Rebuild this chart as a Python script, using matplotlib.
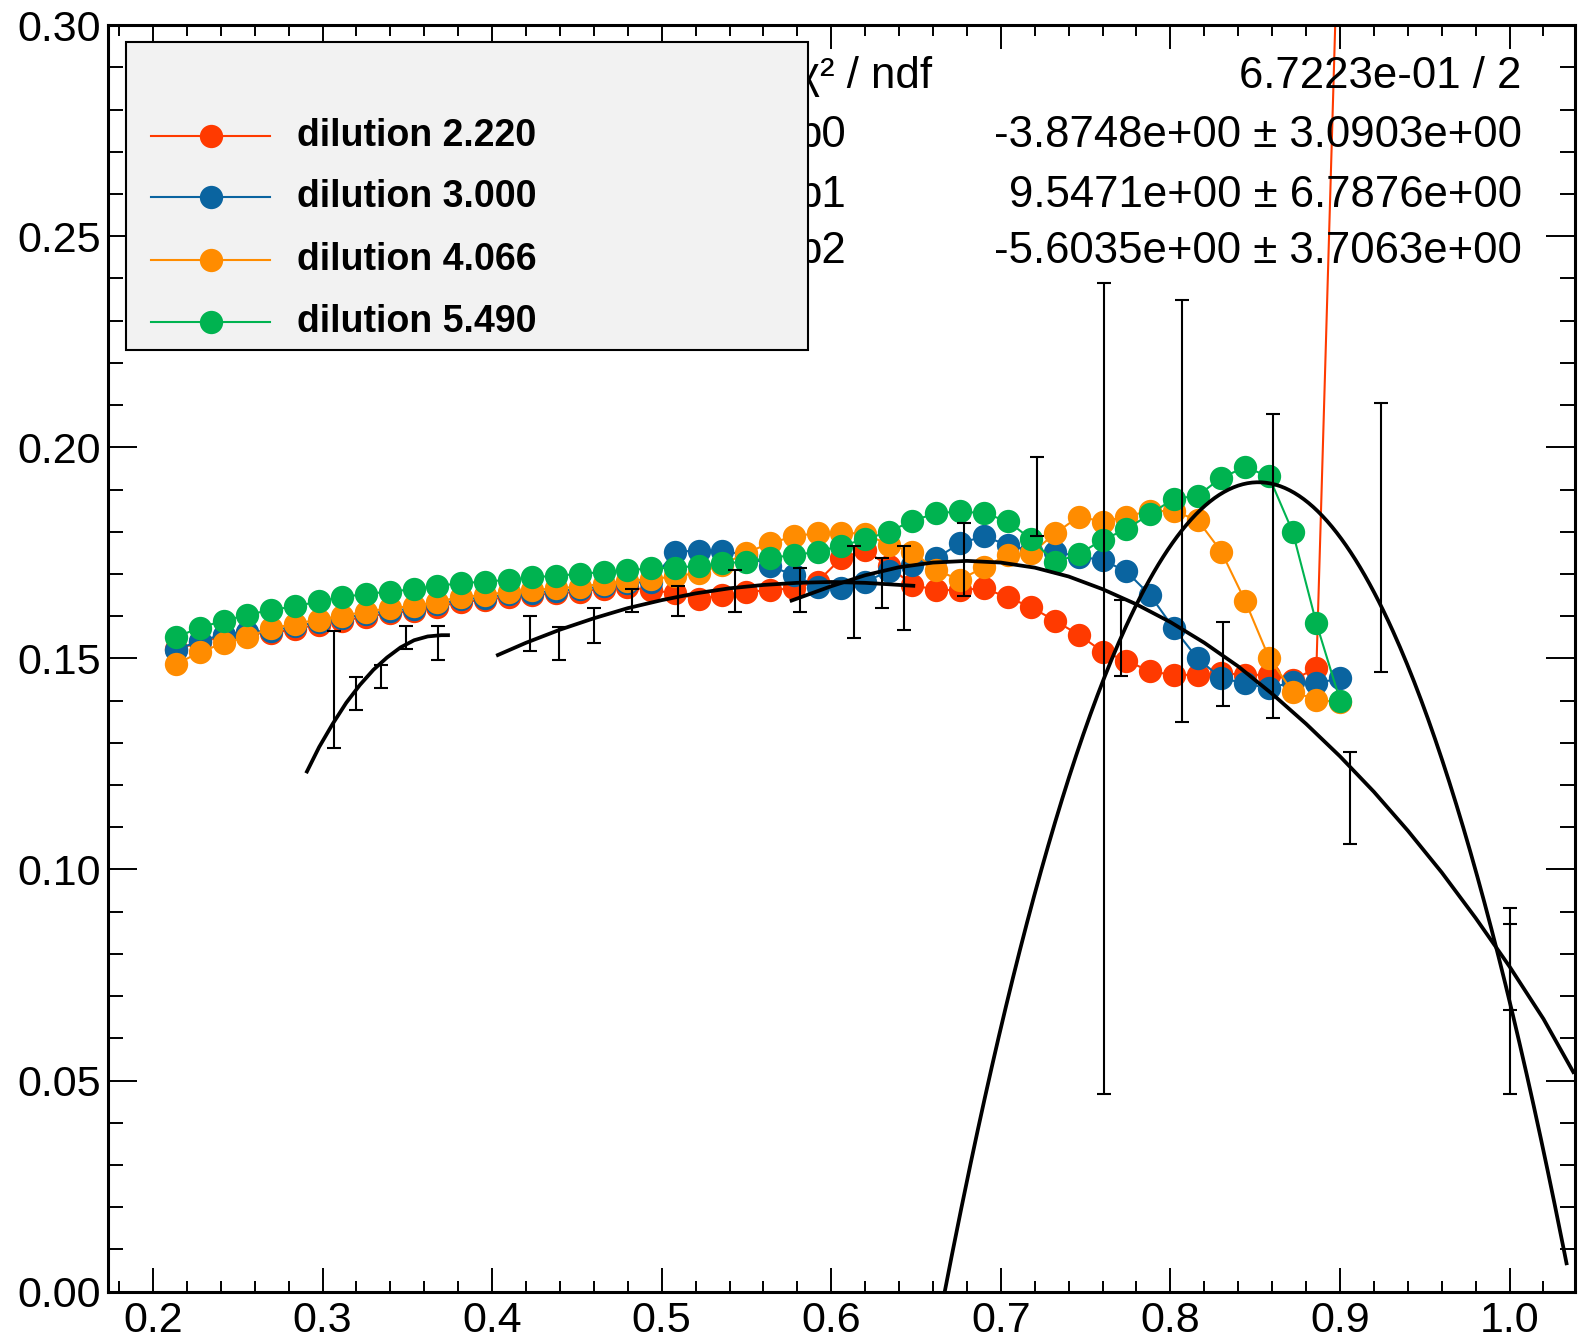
import numpy as np
import matplotlib
matplotlib.use('Agg')
import matplotlib.pyplot as plt
from matplotlib.ticker import MultipleLocator, FormatStrFormatter
from matplotlib.patches import Rectangle
from matplotlib.lines import Line2D

plt.rcParams['font.family'] = ['Liberation Sans', 'DejaVu Sans']

# common x grid of the four dilution graphs
x = [0.2136, 0.2276, 0.2416, 0.2556, 0.2696, 0.2837, 0.2977, 0.3117, 0.3257, 0.3397,
     0.3537, 0.3677, 0.3817, 0.3957, 0.4097, 0.4238, 0.4378, 0.4518, 0.4658, 0.4798,
     0.4938, 0.5078, 0.5218, 0.5358, 0.5498, 0.5639, 0.5779, 0.5919, 0.6059, 0.6199,
     0.6339, 0.6479, 0.6619, 0.6759, 0.6899, 0.7040, 0.7180, 0.7320, 0.7460, 0.7600,
     0.7740, 0.7880, 0.8020, 0.8160, 0.8300, 0.8441, 0.8581, 0.8721, 0.8861, 0.9001]

dil_2220 = [0.1522, 0.1538, 0.1552, 0.1560, 0.1559, 0.1570, 0.1580, 0.1589, 0.1599, 0.1607,
            0.1612, 0.1622, 0.1634, 0.1638, 0.1646, 0.1650, 0.1654, 0.1658, 0.1665, 0.1668,
            0.1662, 0.1654, 0.1640, 0.1650, 0.1657, 0.1662, 0.1666, 0.1682, 0.1737, 0.1757,
            0.1718, 0.1674, 0.1662, 0.1662, 0.1666, 0.1645, 0.1621, 0.1589, 0.1556, 0.1516,
            0.1495, 0.1469, 0.1461, 0.1461, 0.1465, 0.1461, 0.1461, 0.1449, 0.1477, 0.3400]

dil_3000 = [0.1520, 0.1542, 0.1556, 0.1563, 0.1565, 0.1576, 0.1586, 0.1595, 0.1605, 0.1613,
            0.1618, 0.1628, 0.1640, 0.1644, 0.1652, 0.1656, 0.1660, 0.1664, 0.1671, 0.1678,
            0.1682, 0.1753, 0.1755, 0.1755, 0.1745, 0.1718, 0.1698, 0.1670, 0.1666, 0.1682,
            0.1706, 0.1722, 0.1737, 0.1773, 0.1789, 0.1769, 0.1755, 0.1753, 0.1741, 0.1733,
            0.1706, 0.1650, 0.1571, 0.1500, 0.1453, 0.1441, 0.1429, 0.1444, 0.1441, 0.1453]

dil_4066 = [0.1486, 0.1515, 0.1536, 0.1551, 0.1571, 0.1582, 0.1592, 0.1601, 0.1611, 0.1619,
            0.1624, 0.1634, 0.1646, 0.1650, 0.1658, 0.1662, 0.1666, 0.1670, 0.1677, 0.1684,
            0.1688, 0.1694, 0.1703, 0.1722, 0.1750, 0.1773, 0.1789, 0.1797, 0.1798, 0.1795,
            0.1769, 0.1753, 0.1709, 0.1686, 0.1716, 0.1745, 0.1749, 0.1796, 0.1836, 0.1824,
            0.1836, 0.1850, 0.1848, 0.1828, 0.1753, 0.1636, 0.1502, 0.1421, 0.1402, 0.1396]

dil_5490 = [0.1550, 0.1573, 0.1589, 0.1603, 0.1615, 0.1623, 0.1635, 0.1645, 0.1653, 0.1658,
            0.1664, 0.1672, 0.1678, 0.1682, 0.1686, 0.1692, 0.1696, 0.1700, 0.1705, 0.1709,
            0.1713, 0.1715, 0.1719, 0.1725, 0.1729, 0.1739, 0.1744, 0.1753, 0.1767, 0.1782,
            0.1800, 0.1826, 0.1844, 0.1848, 0.1844, 0.1825, 0.1782, 0.1728, 0.1747, 0.1781,
            0.1806, 0.1842, 0.1878, 0.1885, 0.1928, 0.1953, 0.1931, 0.1800, 0.1583, 0.1400]

series = [dil_2220, dil_3000, dil_4066, dil_5490]
labels = ['dilution 2.220', 'dilution 3.000', 'dilution 4.066', 'dilution 5.490']
colors = ['#ff3a00', '#0a64a0', '#ff8c00', '#00b350']

# black points with errors (no markers)
err_x = [0.3069, 0.3200, 0.3342, 0.3493, 0.3680,
         0.4226, 0.4395, 0.4599, 0.4825, 0.5095, 0.5430, 0.5817, 0.6135, 0.6301, 0.6430,
         0.6783, 0.7211, 0.7706, 0.8308, 0.9062, 1.0000,
         0.7608, 0.8070, 0.8603, 0.9241, 1.0000]
err_lo = [0.1287, 0.1378, 0.1429, 0.1522, 0.1496,
          0.1518, 0.1496, 0.1537, 0.1610, 0.1601, 0.1609, 0.1609, 0.1548, 0.1619, 0.1567,
          0.1648, 0.1789, 0.1458, 0.1388, 0.1061, 0.0666,
          0.0467, 0.1350, 0.1358, 0.1467, 0.0467]
err_hi = [0.1566, 0.1457, 0.1484, 0.1577, 0.1577,
          0.1601, 0.1575, 0.1619, 0.1664, 0.1672, 0.1710, 0.1714, 0.1767, 0.1737, 0.1766,
          0.1820, 0.1978, 0.1638, 0.1586, 0.1278, 0.0871,
          0.2390, 0.2349, 0.2079, 0.2106, 0.0908]

# fitted curves
fit1_x = [0.2908, 0.2980, 0.3060, 0.3140, 0.3220, 0.3300, 0.3380, 0.3460, 0.3540, 0.3620, 0.3700, 0.3740]
fit1_y = [0.1232, 0.1290, 0.1345, 0.1395, 0.1437, 0.1473, 0.1502, 0.1526, 0.1543, 0.1552, 0.1555, 0.1555]

fit2_x = [0.4034, 0.4200, 0.4400, 0.4600, 0.4800, 0.5000, 0.5200, 0.5400, 0.5600, 0.5800, 0.6000, 0.6200, 0.6484]
fit2_y = [0.1508, 0.1537, 0.1568, 0.1595, 0.1619, 0.1638, 0.1654, 0.1666, 0.1674, 0.1679, 0.1681, 0.1679, 0.1672]

fit3_x = [0.5766, 0.600, 0.620, 0.640, 0.660, 0.680, 0.700, 0.720, 0.740, 0.760, 0.780, 0.800,
          0.820, 0.840, 0.860, 0.880, 0.900, 0.920, 0.940, 0.960, 0.980, 1.000, 1.020, 1.0376]
fit3_y = [0.1637, 0.1671, 0.1697, 0.1716, 0.1727, 0.1731, 0.1727, 0.1715, 0.1694, 0.1664, 0.1628, 0.1586,
          0.1537, 0.1481, 0.1416, 0.1345, 0.1268, 0.1184, 0.1092, 0.0993, 0.0885, 0.0770, 0.0646, 0.0520]

# pol2 fit shown in the stats box
chi2, ndf = 0.67223, 2
par_names = ['p0', 'p1', 'p2']
par_vals = [-3.8748, 9.5471, -5.6035]
par_errs = [3.0903, 6.7876, 3.7063]
pol2_range = (0.62, 1.0336)

fig = plt.figure(figsize=(15.78, 13.42), dpi=100)
ax = fig.add_axes([0.06825, 0.03756, 0.92985, 0.94367])

for k, (ys, c) in enumerate(zip(series, colors)):
    ax.plot(x, ys, '-o', color=c, lw=1.5, ms=16.8, mew=0, zorder=2 + k)

yc = [(lo + hi) / 2 for lo, hi in zip(err_lo, err_hi)]
ye = [(hi - lo) / 2 for lo, hi in zip(err_lo, err_hi)]
ax.errorbar(err_x, yc, yerr=ye, fmt='none', ecolor='k', elinewidth=1.5,
            capsize=5, capthick=1.5, zorder=7)

for fx, fy in [(fit1_x, fit1_y), (fit2_x, fit2_y), (fit3_x, fit3_y)]:
    ax.plot(fx, fy, color='k', lw=2.7, zorder=8)

xp = np.linspace(pol2_range[0], pol2_range[1], 300)
yp = par_vals[0] + par_vals[1] * xp + par_vals[2] * xp ** 2
ax.plot(xp, yp, color='k', lw=2.7, zorder=8)

# stats box (partly covered by the legend)
rows_y = [0.9502, 0.9040, 0.8566, 0.8119]
sx_l, sx_r = 0.4697, 0.9637
ax.text(sx_l, rows_y[0], '\u03c7\u00b2 / ndf', transform=ax.transAxes, fontsize=31.5, va='baseline', zorder=10)
ax.text(sx_r, rows_y[0], f'{chi2:.4e} / {ndf}', transform=ax.transAxes, fontsize=31.5,
        va='baseline', ha='right', zorder=10)
for name, v, e, yy in zip(par_names, par_vals, par_errs, rows_y[1:]):
    ax.text(sx_l, yy, name, transform=ax.transAxes, fontsize=31.5, va='baseline', zorder=10)
    ax.text(sx_r, yy, f'{v:.4e} \u00b1 {e:.4e}', transform=ax.transAxes, fontsize=31.5,
            va='baseline', ha='right', zorder=10)

# legend box
ax.add_patch(Rectangle((0.01234, 0.7433), 0.4650, 0.2432, transform=ax.transAxes,
                       facecolor='#f2f2f2', edgecolor='k', lw=1.5, zorder=20))
leg_y = [0.9124, 0.8640, 0.8147, 0.7654]
for lab, c, ly in zip(labels, colors, leg_y):
    ax.add_line(Line2D([0.0295, 0.1106], [ly, ly], transform=ax.transAxes, color=c, lw=1.5, zorder=21))
    ax.add_line(Line2D([0.0705], [ly], transform=ax.transAxes, marker='o', ms=16.8, mew=0,
                       color=c, zorder=22))
    ax.text(0.129, ly, lab, transform=ax.transAxes, fontsize=27, fontweight='bold',
            va='center', zorder=23)

ax.set_xlim(0.1733, 1.0386)
ax.set_ylim(0.0, 0.30)
ax.xaxis.set_major_locator(MultipleLocator(0.1))
ax.xaxis.set_minor_locator(MultipleLocator(0.02))
ax.yaxis.set_major_locator(MultipleLocator(0.05))
ax.yaxis.set_minor_locator(MultipleLocator(0.01))
ax.xaxis.set_major_formatter(FormatStrFormatter('%.1f'))
ax.yaxis.set_major_formatter(FormatStrFormatter('%.2f'))

ax.tick_params(which='both', direction='in', top=True, right=True, width=1.4, labelsize=31)
ax.tick_params(axis='x', which='major', length=17, pad=7)
ax.tick_params(axis='x', which='minor', length=8)
ax.tick_params(axis='y', which='major', length=21, pad=5)
ax.tick_params(axis='y', which='minor', length=11)
for sp in ax.spines.values():
    sp.set_linewidth(2.2)

fig.savefig('out.png', dpi=100)
